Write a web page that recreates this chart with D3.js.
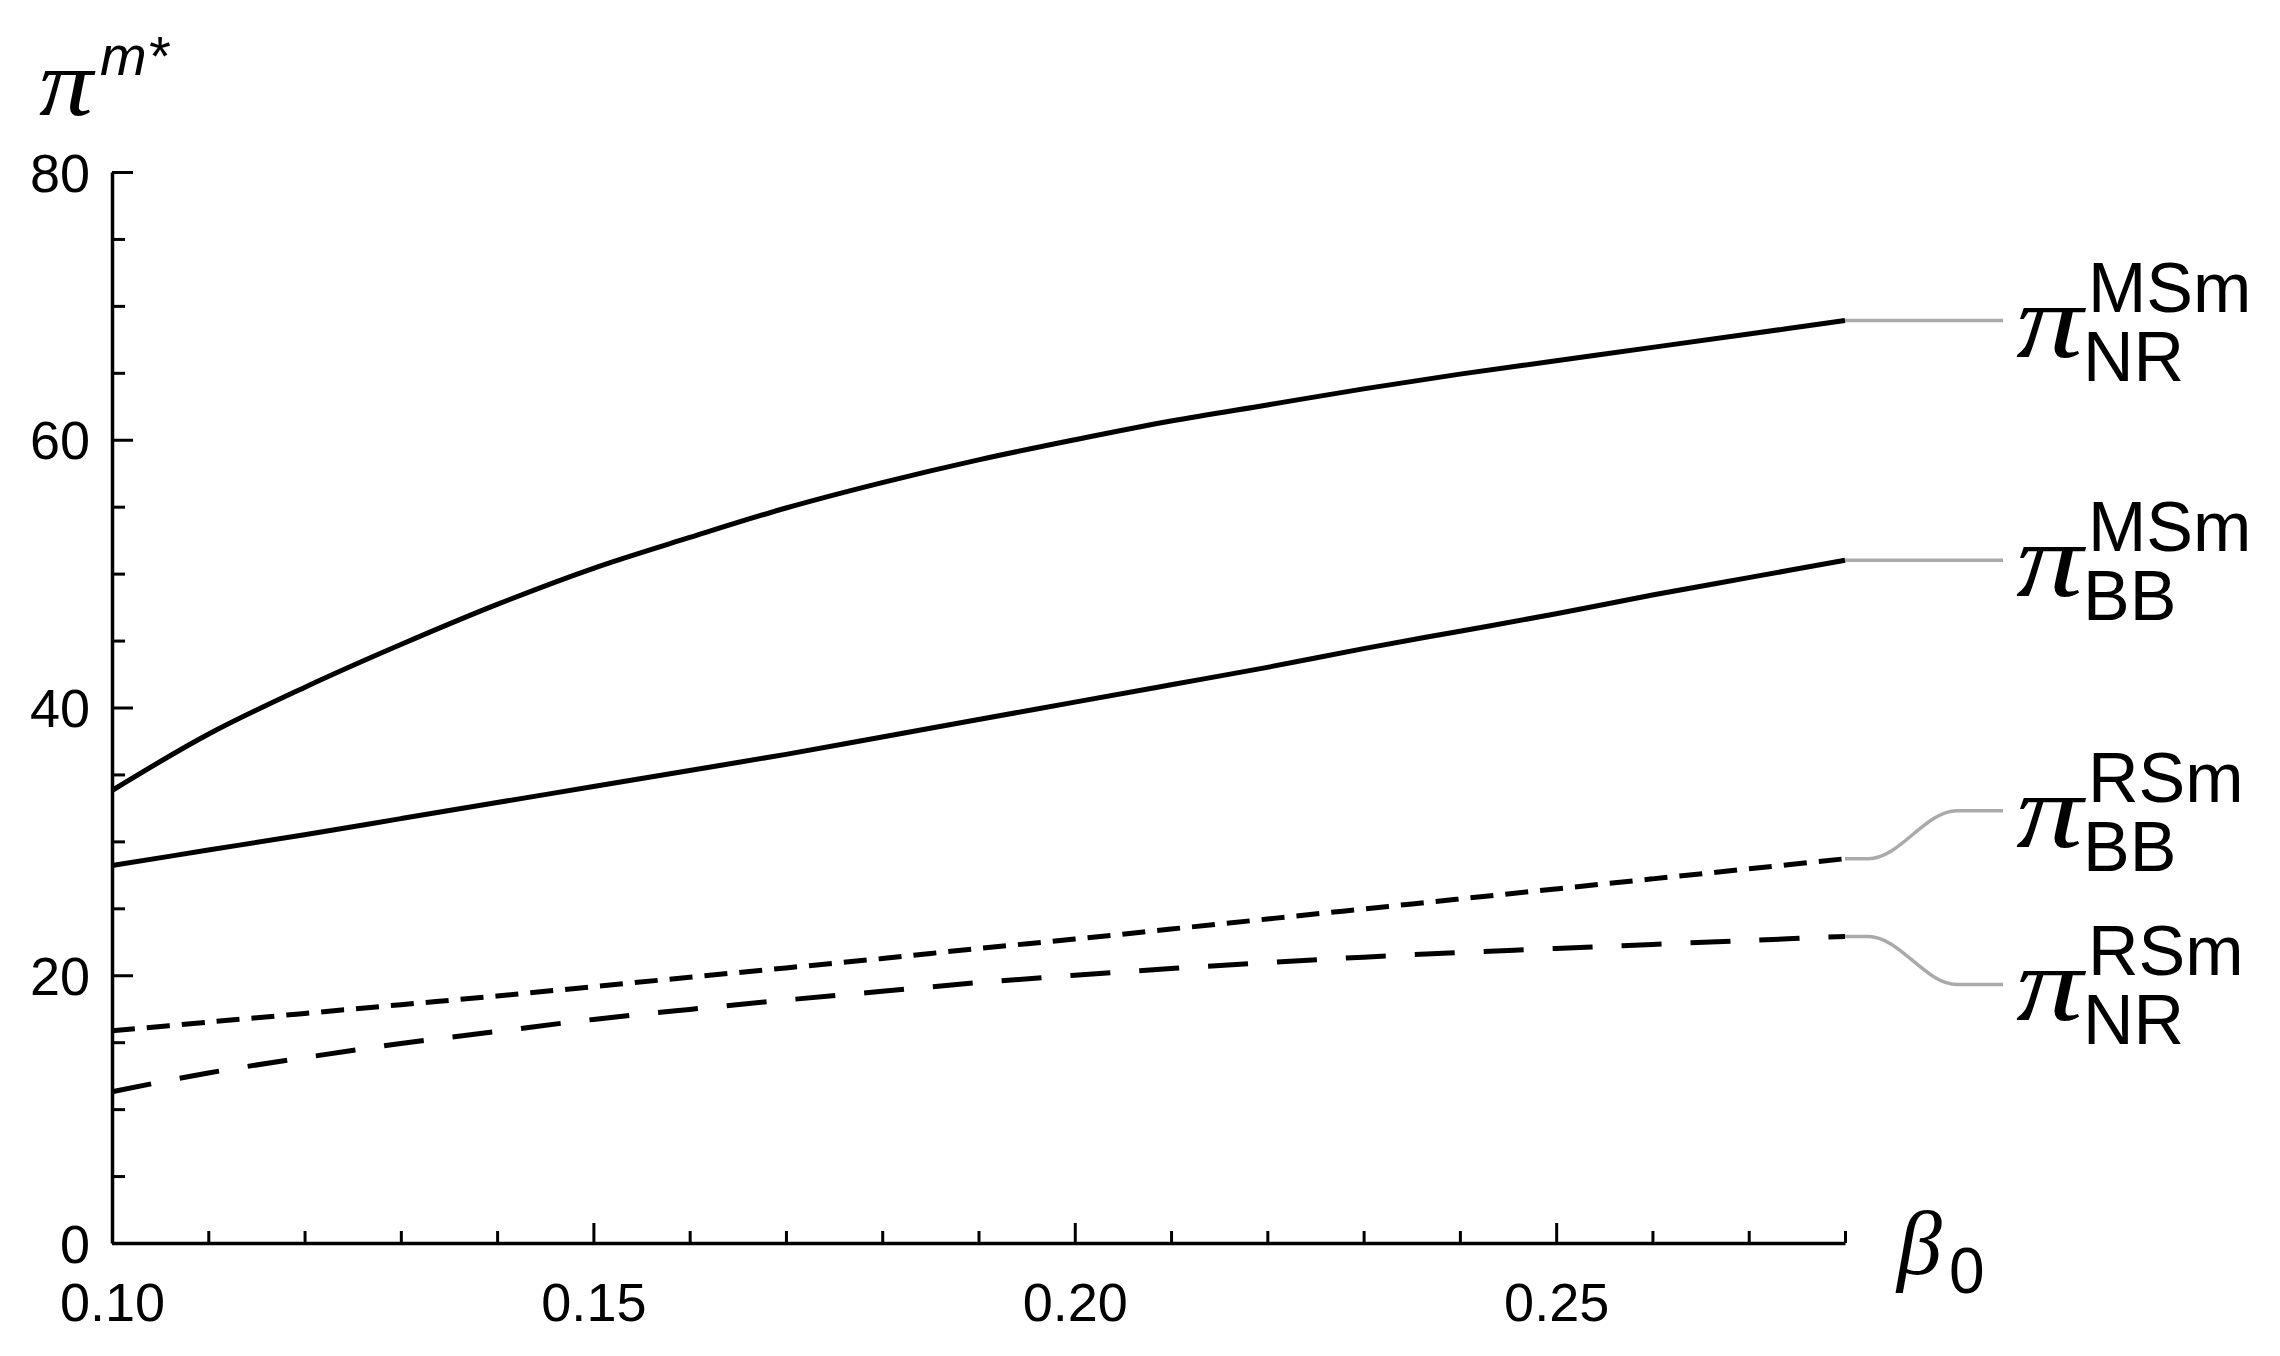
<!DOCTYPE html>
<html>
<head>
<meta charset="utf-8">
<script src="https://cdn.jsdelivr.net/npm/d3@7"></script>
<style>
  body { margin: 0; background: #fff; }
  svg { display: block; }
  .tick-label { font-family: "Liberation Sans", Arial, sans-serif; font-size: 54px; fill: #000; }
  .greek { font-family: "Liberation Serif", "Times New Roman", serif; font-style: italic; }
  .sans { font-family: "Liberation Sans", Arial, sans-serif; font-style: normal; }
  text { fill: #000; }
</style>
</head>
<body>
<div id="chart"></div>
<script>
// beta_0 grid
const betas = [0.10, 0.11, 0.12, 0.13, 0.14, 0.15, 0.16, 0.17, 0.18, 0.19,
               0.20, 0.21, 0.22, 0.23, 0.24, 0.25, 0.26, 0.27, 0.28];

// manufacturer profit
const nrMSm = [33.8, 38.0, 41.5, 44.7, 47.7, 50.4, 52.7, 54.9, 56.8, 58.5,
               60.0, 61.4, 62.6, 63.8, 64.9, 65.9, 66.9, 67.9, 68.9];
const bbMSm = [28.2, 29.35, 30.5, 31.7, 32.9, 34.1, 35.3, 36.5, 37.8, 39.1,
               40.4, 41.7, 43.0, 44.4, 45.7, 47.0, 48.4, 49.7, 51.0];
const bbRSm = [15.85, 16.5, 17.15, 17.8, 18.45, 19.15, 19.85, 20.55, 21.25, 22.0,
               22.7, 23.45, 24.2, 24.95, 25.7, 26.45, 27.2, 27.95, 28.7];
const nrRSm = [11.3, 12.7, 13.85, 14.9, 15.8, 16.7, 17.45, 18.15, 18.8, 19.45,
               20.0, 20.5, 20.95, 21.35, 21.7, 22.0, 22.3, 22.6, 22.9];

const seriesSup = ["MSm", "MSm", "RSm", "RSm"];
const seriesSub = ["NR", "BB", "BB", "NR"];

const xMajor = [0.10, 0.15, 0.20, 0.25];
const xMinor = [0.11, 0.12, 0.13, 0.14, 0.16, 0.17, 0.18, 0.19, 0.21, 0.22, 0.23, 0.24, 0.26, 0.27, 0.28];
const yMajor = [0, 20, 40, 60, 80];
const yMinor = [5, 10, 15, 25, 30, 35, 45, 50, 55, 65, 70, 75];

// styling / layout
const dashes = [null, null, "23,12", "40,29"];
const labelShift = [0, 0, -48, 48];

const W = 2280, H = 1356;
const x = d3.scaleLinear().domain([0.10, 0.28]).range([112, 1845]);
const y = d3.scaleLinear().domain([0, 80]).range([1243, 172]);

const svg = d3.select("#chart").append("svg")
    .attr("width", W)
    .attr("height", H);

// axes: minor then major ticks, pointing inward
svg.append("g")
    .attr("transform", `translate(0,${y(0)})`)
    .call(d3.axisBottom(x).tickValues(xMinor).tickSize(-12).tickSizeOuter(0).tickFormat(""))
    .call(g => g.select(".domain").remove());

const gx = svg.append("g")
    .attr("transform", `translate(0,${y(0)})`)
    .call(d3.axisBottom(x).tickValues(xMajor).tickSize(-20).tickSizeOuter(0).tickFormat(d3.format(".2f")));

svg.append("g")
    .attr("transform", `translate(${x(0.10)},0)`)
    .call(d3.axisLeft(y).tickValues(yMinor).tickSize(-13).tickSizeOuter(0).tickFormat(""))
    .call(g => g.select(".domain").remove());

const gy = svg.append("g")
    .attr("transform", `translate(${x(0.10)},0)`)
    .call(d3.axisLeft(y).tickValues(yMajor).tickSize(-21).tickSizeOuter(0).tickFormat(d3.format("d")));

svg.selectAll(".domain").attr("stroke", "#000").attr("stroke-width", 3.5);
svg.selectAll(".tick line").attr("stroke", "#000").attr("stroke-width", 3);

gx.selectAll("text")
    .attr("class", "tick-label")
    .attr("y", 78).attr("dy", null)
    .attr("text-anchor", "middle");

gy.selectAll("text")
    .attr("class", "tick-label")
    .attr("x", -22).attr("dy", "19px")
    .attr("text-anchor", "end");

// curves
const allSeries = [nrMSm, bbMSm, bbRSm, nrRSm];
const line = d3.line()
    .x((d, i) => x(betas[i]))
    .y(d => y(d))
    .curve(d3.curveCatmullRom.alpha(0.5));

allSeries.forEach((vals, k) => {
    svg.append("path")
        .datum(vals)
        .attr("fill", "none")
        .attr("stroke", "#000")
        .attr("stroke-width", 5)
        .attr("stroke-dasharray", dashes[k])
        .attr("d", line);
});

// leader lines and labels on the right
const xEnd = x(betas[betas.length - 1]);
allSeries.forEach((vals, k) => {
    const y0 = y(vals[vals.length - 1]);
    const y1 = y0 + labelShift[k];
    let d;
    if (labelShift[k] === 0) {
        d = `M${xEnd},${y0}H2003`;
    } else {
        d = `M${xEnd},${y0}H1868C1900,${y0} 1925,${y1} 1957,${y1}H2003`;
    }
    svg.append("path")
        .attr("d", d)
        .attr("fill", "none")
        .attr("stroke", "#aaaaaa")
        .attr("stroke-width", 3.5);

    const t = svg.append("text");
    t.append("tspan")
        .attr("class", "greek")
        .attr("x", 2016).attr("y", y1 + 36)
        .attr("textLength", 67)
        .attr("lengthAdjust", "spacingAndGlyphs")
        .style("font-size", "106px")
        .text("π");
    t.append("tspan")
        .attr("class", "sans")
        .attr("x", 2088).attr("y", y1 - 9)
        .style("font-size", "70px")
        .text(seriesSup[k]);
    t.append("tspan")
        .attr("class", "sans")
        .attr("x", 2083).attr("y", y1 + 60)
        .style("font-size", "70px")
        .text(seriesSub[k]);
});

// axis titles
const ty = svg.append("text");
ty.append("tspan")
    .attr("class", "greek")
    .attr("x", 39).attr("y", 115)
    .attr("textLength", 54)
    .attr("lengthAdjust", "spacingAndGlyphs")
    .style("font-size", "96px")
    .text("π");
ty.append("tspan")
    .attr("class", "sans")
    .attr("x", 100).attr("y", 75)
    .style("font-size", "56px")
    .style("font-style", "italic")
    .text("m*");

const tb = svg.append("text");
tb.append("tspan")
    .attr("class", "greek")
    .attr("x", 1897).attr("y", 1274)
    .style("font-size", "90px")
    .text("β");
tb.append("tspan")
    .attr("class", "sans")
    .attr("x", 1949).attr("y", 1293)
    .style("font-size", "64px")
    .text("0");
</script>
</body>
</html>
